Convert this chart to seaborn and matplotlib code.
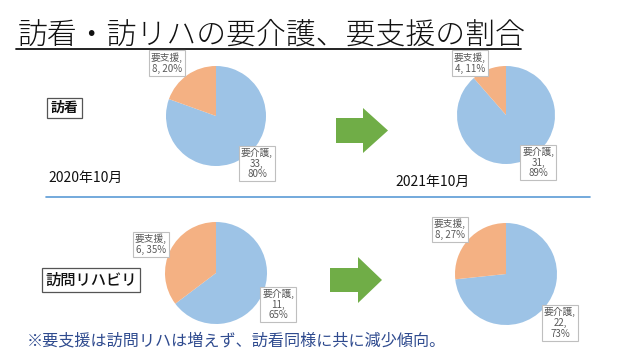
import numpy as np
import pandas as pd
import matplotlib
matplotlib.use("Agg")
import matplotlib.pyplot as plt
import seaborn as sns
from matplotlib.patches import Polygon
from matplotlib.lines import Line2D

sns.set_theme(style="white")
plt.rcParams['font.family'] = ['Noto Sans CJK JP', 'DejaVu Sans']

# ---- data ----
categories = ['要介護', '要支援']
groups = ['訪看', '訪問リハビリ']
periods = ['2020年10月', '2021年10月']
houkan_2020 = [33, 8]
houkan_2021 = [31, 4]
rehab_2020 = [11, 6]
rehab_2021 = [22, 8]
title = '訪看・訪リハの要介護、要支援の割合'
note = '※要支援は訪問リハは増えず、訪看同様に共に減少傾向。'

colors = ['#9DC3E6', '#F4B183']

W, H = 640, 360
fig = plt.figure(figsize=(6.4, 3.6), dpi=100)
fig.patch.set_facecolor('white')

# overlay axis in pixel coords
ov = fig.add_axes([0, 0, 1, 1])
ov.set_xlim(0, W)
ov.set_ylim(H, 0)
ov.axis('off')

def pie_at(cx, cy, r, values, lab_pos):
    ax = fig.add_axes([(cx - r) / W, (H - cy - r) / H, 2 * r / W, 2 * r / H])
    ax.pie(values, colors=colors, startangle=90, counterclock=False,
           radius=1.0, wedgeprops=dict(edgecolor='none'))
    ax.set_xlim(-1, 1)
    ax.set_ylim(-1, 1)
    ax.set_aspect('auto')
    ax.axis('off')
    total = sum(values)
    for i, (cat, v) in enumerate(zip(categories, values)):
        pct = int(round(100 * v / total))
        if i == 0:
            txt = f'{cat},\n{v},\n{pct}%'
        else:
            txt = f'{cat},\n{v}, {pct}%'
        lx, ly = lab_pos[i]
        ax.text(lx, ly, txt, ha='center', va='center', fontsize=7,
                color='#595959', linespacing=1.1, clip_on=False, zorder=5,
                bbox=dict(boxstyle='square,pad=0.2', fc='white', ec='#BFBFBF', lw=0.8))

pie_at(216, 116, 50, houkan_2020, [(0.82, -0.95), (-0.98, 1.06)])
pie_at(506, 115, 49, houkan_2021, [(0.66, -0.97), (-0.74, 1.06)])
pie_at(216, 273, 51, rehab_2020, [(1.22, -0.62), (-1.28, 0.56)])
pie_at(506, 274, 51, rehab_2021, [(1.06, -0.96), (-1.1, 0.88)])

# arrows
def arrow(x0, x1, xh, y0, y1, by0, by1):
    pts = [(x0, by0), (xh, by0), (xh, y0), (x1, (y0 + y1) / 2), (xh, y1), (xh, by1), (x0, by1)]
    ov.add_patch(Polygon(pts, closed=True, fc='#70AD47', ec='none'))

arrow(336, 388, 363, 108, 153, 118, 143)
arrow(330, 382, 358, 257, 303, 268, 292)

# title
ov.text(18, 35, title, fontsize=21.5, fontweight='light', color='#111111', ha='left', va='center')
ov.add_line(Line2D([16, 521], [49, 49], color='#111111', lw=1.3))

# group boxes
ov.text(64.5, 108, groups[0], fontsize=10, fontweight='bold', ha='center', va='center',
        color='#111111', bbox=dict(boxstyle='square,pad=0.25', fc='white', ec='#555555', lw=0.9))
ov.text(91, 280, groups[1], fontsize=11, fontweight='medium', ha='center', va='center',
        color='#111111', bbox=dict(boxstyle='square,pad=0.22', fc='white', ec='#555555', lw=0.9))

# periods
ov.text(48, 178, periods[0], fontsize=10, color='#111111', ha='left', va='center')
ov.text(395, 182, periods[1], fontsize=10, color='#111111', ha='left', va='center')

# separator line
ov.add_line(Line2D([46, 590], [197, 197], color='#5B9BD5', lw=1.2))

# note
ov.text(27, 341, note, fontsize=11.6, color='#2F4B8F', ha='left', va='center')

fig.savefig('out.png', dpi=100, facecolor='white')
